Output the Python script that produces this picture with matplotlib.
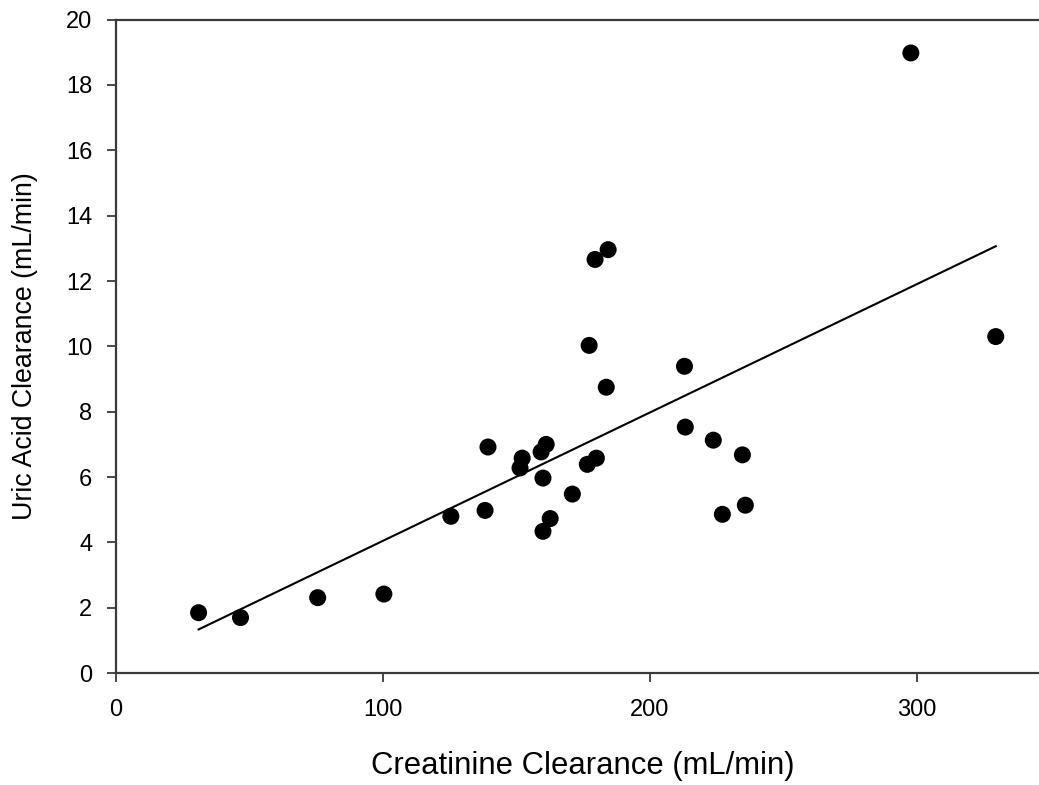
import numpy as np
import matplotlib
matplotlib.use("Agg")
import matplotlib.pyplot as plt

# creatinine clearance (mL/min) vs uric acid clearance (mL/min)
creat = [31.0, 46.7, 75.6, 100.4, 125.5, 138.3, 139.4, 151.4, 152.2, 159.3,
         161.2, 160.0, 160.0, 162.7, 171.0, 176.6, 180.0, 177.3, 179.5, 184.4,
         183.7, 213.0, 213.3, 223.8, 234.7, 227.2, 235.8, 297.8, 329.6]
uric = [1.85, 1.70, 2.31, 2.42, 4.80, 4.98, 6.92, 6.28, 6.58, 6.77,
        7.00, 5.97, 4.34, 4.73, 5.48, 6.39, 6.58, 10.03, 12.66, 12.96,
        8.75, 9.39, 7.53, 7.13, 6.68, 4.86, 5.14, 18.98, 10.30]

x = np.array(creat)
y = np.array(uric)
# least squares line over the data range
slope, intercept = np.polyfit(x, y, 1)
xfit = np.array([x.min(), x.max()])
yfit = slope * xfit + intercept

plt.rcParams['font.family'] = ['Liberation Sans', 'DejaVu Sans']

fig = plt.figure(figsize=(10.39, 7.85), dpi=100)
ax = fig.add_axes([0.1115, 0.1425, 0.8885, 0.8325])

ax.plot(xfit, yfit, color='black', lw=1.5)
ax.scatter(x, y, s=150, c='black', edgecolors='none', zorder=3)

ax.set_xlim(0, 345.8)
ax.set_ylim(0, 20)
ax.set_xticks([0, 100, 200, 300])
ax.set_yticks(np.arange(0, 21, 2))

for side in ['left', 'bottom', 'top']:
    ax.spines[side].set_color('#3a3a3a')
    ax.spines[side].set_linewidth(1.6)
ax.spines['right'].set_visible(False)
ax.tick_params(direction='out', length=6.5, width=1.3, color='#3a3a3a',
               labelsize=17)
ax.tick_params(axis='x', pad=12)
ax.tick_params(axis='y', pad=10.5)

ax.set_xlabel('Creatinine Clearance (mL/min)', fontsize=22.3)
ax.set_ylabel('Uric Acid Clearance (mL/min)', fontsize=19.3)
ax.xaxis.set_label_coords(0.5054, -0.119)
ax.yaxis.set_label_coords(-0.084, 0.5)

fig.savefig('out.png', dpi=100)
